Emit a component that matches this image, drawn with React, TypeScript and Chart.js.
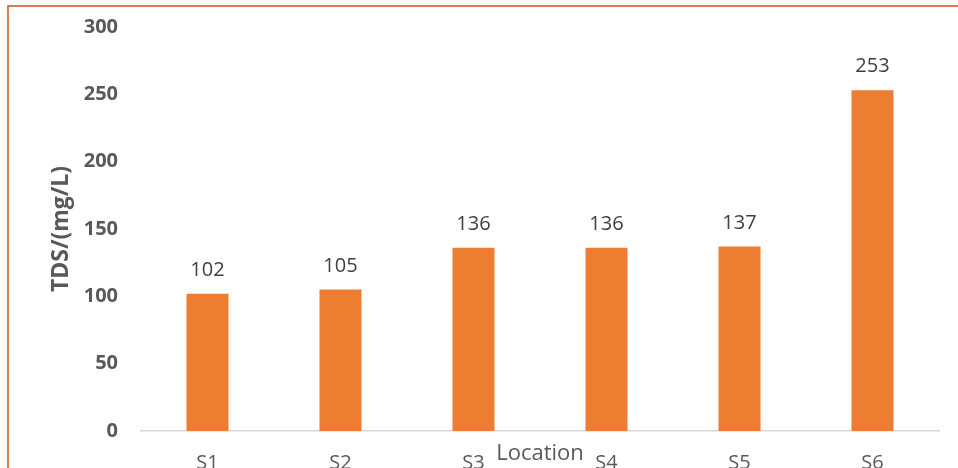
import React, { useEffect, useRef } from "react";
import { Chart, registerables } from "chart.js";

Chart.register(...registerables);

const categories = ["S1", "S2", "S3", "S4", "S5", "S6"];
const tdsValues = [102, 105, 136, 136, 137, 253];
const yTicks = [0, 50, 100, 150, 200, 250, 300];
const yTitle = "TDS/(mg/L)";
const xTitle = "Location";

const FONT = "'Open Sans', 'DejaVu Sans', sans-serif";

const framePlugin = {
  id: "frame",
  beforeDraw(chart: any) {
    const ctx = chart.ctx;
    ctx.save();
    ctx.strokeStyle = "#C55A11";
    ctx.lineWidth = 1.5;
    ctx.beginPath();
    ctx.moveTo(chart.width, 6);
    ctx.lineTo(8, 6);
    ctx.lineTo(8, chart.height);
    ctx.stroke();
    ctx.restore();
  },
};

const labelsPlugin = {
  id: "valueLabels",
  afterDatasetsDraw(chart: any) {
    const ctx = chart.ctx;
    const meta = chart.getDatasetMeta(0);
    const data = chart.data.datasets[0].data;
    ctx.save();
    ctx.fillStyle = "#404040";
    ctx.font = `20px ${FONT}`;
    ctx.textAlign = "center";
    ctx.textBaseline = "alphabetic";
    meta.data.forEach((bar: any, i: number) => {
      ctx.fillText(String(data[i]), bar.x, bar.y - 18);
    });
    ctx.restore();
  },
  afterDraw(chart: any) {
    const ctx = chart.ctx;
    const a = chart.chartArea;
    ctx.save();
    ctx.fillStyle = "#595959";
    ctx.font = `22px ${FONT}`;
    ctx.textAlign = "center";
    ctx.textBaseline = "alphabetic";
    ctx.fillText(xTitle, (a.left + a.right) / 2, a.bottom + 29);
    ctx.translate(61, (a.top + a.bottom) / 2);
    ctx.rotate(-Math.PI / 2);
    ctx.font = `bold 23px ${FONT}`;
    ctx.textBaseline = "middle";
    ctx.fillText(yTitle, 0, 0);
    ctx.restore();
  },
};

export default function App() {
  const ref = useRef<HTMLCanvasElement | null>(null);
  useEffect(() => {
    document.body.style.margin = "0";
    document.body.style.overflow = "hidden";
    const canvas = ref.current;
    if (!canvas) return;
    const chart = new Chart(canvas, {
      type: "bar",
      data: {
        labels: categories,
        datasets: [
          {
            data: tdsValues,
            backgroundColor: "#ED7D31",
            categoryPercentage: 1,
            barPercentage: 0.316,
          },
        ],
      },
      options: {
        animation: false,
        responsive: false,
        maintainAspectRatio: false,
        layout: { padding: { top: 27, right: 19, left: 0, bottom: 0 } },
        plugins: {
          legend: { display: false },
          tooltip: { enabled: false },
          title: { display: false },
        },
        scales: {
          x: {
            grid: { display: false, drawTicks: false },
            border: { display: true, color: "#D9D9D9", width: 1.5 },
            ticks: {
              color: "#595959",
              font: { family: FONT, size: 20 },
              padding: 20,
              maxRotation: 0,
            },
            afterFit(scale: any) {
              scale.height = 500 - 431;
              scale.paddingLeft = 0;
              scale.paddingRight = 0;
            },
          },
          y: {
            min: 0,
            max: 300,
            afterBuildTicks(scale: any) {
              scale.ticks = yTicks.map((v) => ({ value: v }));
            },
            grid: { display: false, drawTicks: false },
            border: { display: false },
            ticks: {
              color: "#595959",
              font: { family: FONT, size: 20, weight: "bold" },
              padding: 23,
            },
            afterFit(scale: any) {
              scale.width = 141;
              scale.paddingTop = 0;
              scale.paddingBottom = 0;
            },
          },
        },
      },
      plugins: [framePlugin, labelsPlugin],
    });
    return () => chart.destroy();
  }, []);
  return (
    <div style={{ width: 958, height: 468, overflow: "hidden", position: "relative" }}>
      <canvas ref={ref} width={958} height={500} style={{ display: "block" }} />
    </div>
  );
}
